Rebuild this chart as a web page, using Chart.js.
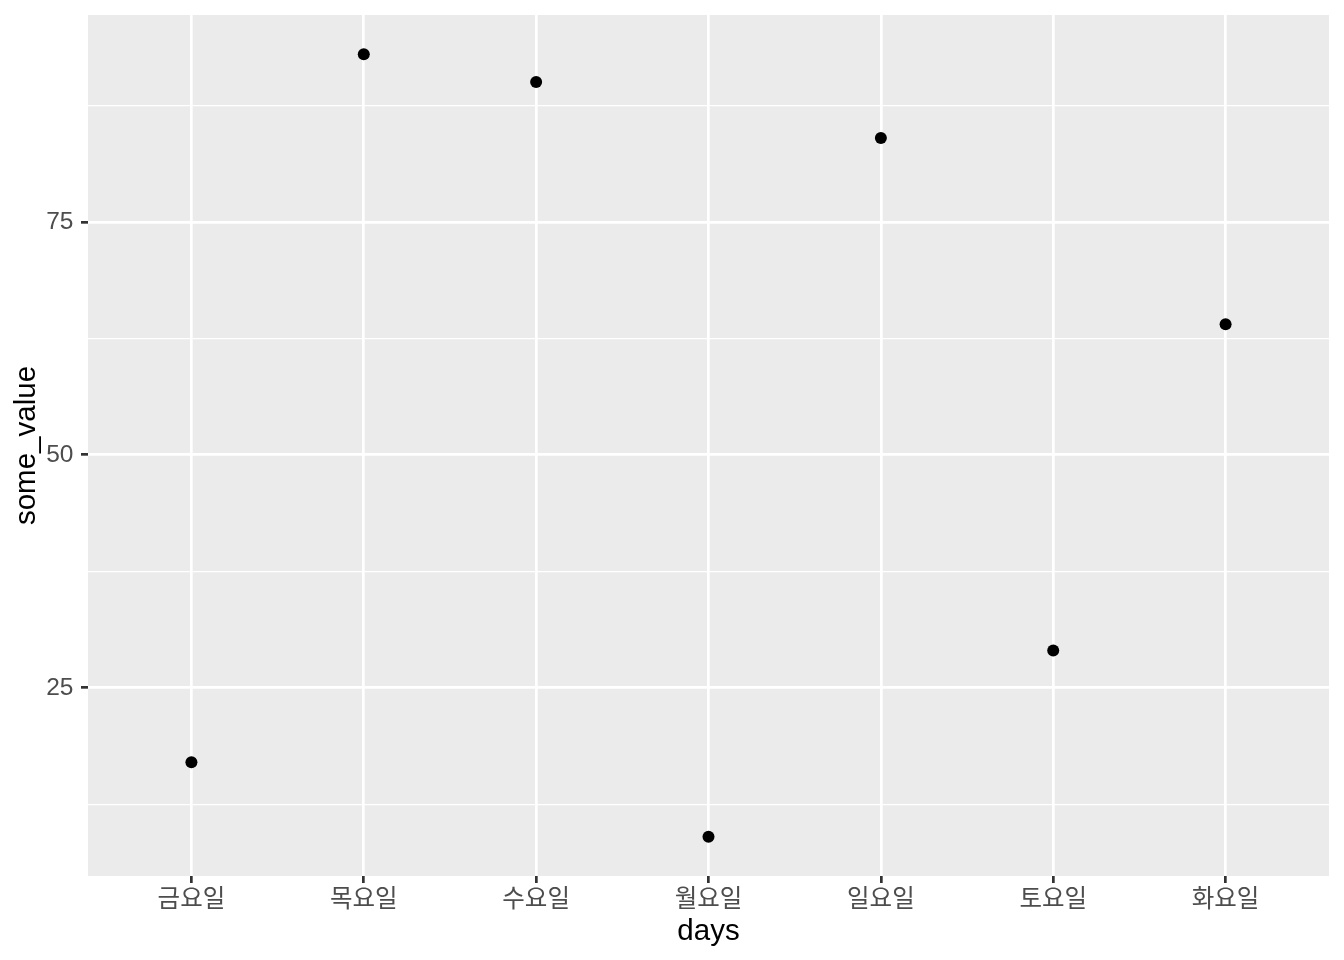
<!DOCTYPE html>
<html lang="ko">
<head>
<meta charset="utf-8">
<title>some_value by days</title>
<script src="https://cdn.jsdelivr.net/npm/chart.js@4/dist/chart.umd.min.js"></script>
<style>
  body { margin: 0; background: #fff; }
  #wrap { width: 1344px; height: 960px; }
</style>
</head>
<body>
<div id="wrap">
  <canvas id="myChart" width="1344" height="960"></canvas>
</div>
<script>
// data
var days = ["금요일", "목요일", "수요일", "월요일", "일요일", "토요일", "화요일"];
var someValue = [17, 93, 90, 9, 84, 29, 64];
var yMajor = [25, 50, 75];
var yMinor = [12.5, 37.5, 62.5, 87.5];

var FONT = "'Liberation Sans', Arial, 'Noto Sans CJK KR', sans-serif";

var points = days.map(function (d, i) { return { x: i, y: someValue[i] }; });

// grey panel behind the grid
var panelBg = {
  id: 'panelBg',
  beforeDraw: function (chart) {
    var a = chart.chartArea, c = chart.ctx;
    c.save();
    c.fillStyle = '#EBEBEB';
    c.fillRect(a.left, a.top, a.right - a.left, a.bottom - a.top);
    c.restore();
  }
};

function isMinor(ctx) {
  return ctx.tick && yMinor.indexOf(ctx.tick.value) !== -1;
}

function noEdgePad(scale) {
  scale.paddingTop = 0;
  scale.paddingBottom = 0;
  scale.paddingLeft = 0;
  scale.paddingRight = 0;
}

var ctx = document.getElementById('myChart').getContext('2d');
var myChart = new Chart(ctx, {
  type: 'scatter',
  data: {
    datasets: [{
      label: 'some_value',
      data: points,
      backgroundColor: '#000000',
      borderWidth: 0,
      pointRadius: 6,
      pointHoverRadius: 6
    }]
  },
  options: {
    responsive: false,
    animation: false,
    layout: { padding: { top: 15, right: 15, left: 0, bottom: 0 } },
    plugins: {
      legend: { display: false },
      tooltip: { enabled: false }
    },
    scales: {
      x: {
        type: 'linear',
        min: -0.6,
        max: 6.6,
        afterBuildTicks: function (scale) {
          scale.ticks = days.map(function (d, i) { return { value: i }; });
        },
        afterFit: function (scale) { scale.height = 84; noEdgePad(scale); },
        border: { display: false },
        grid: {
          color: '#FFFFFF',
          lineWidth: 2.7,
          tickColor: '#333333',
          tickLength: 7,
          tickWidth: 2.7
        },
        ticks: {
          padding: 3,
          color: '#4D4D4D',
          font: { family: FONT, size: 24.5 },
          maxRotation: 0,
          autoSkip: false,
          callback: function (v) { return days[v]; }
        },
        title: {
          display: true,
          text: 'days',
          color: '#000000',
          font: { family: FONT, size: 29.5 },
          padding: { top: 0, bottom: 10.5 }
        }
      },
      y: {
        type: 'linear',
        min: 4.8,
        max: 97.2,
        afterBuildTicks: function (scale) {
          scale.ticks = yMinor.concat(yMajor).sort(function (a, b) { return a - b; })
            .map(function (v) { return { value: v }; });
        },
        afterFit: function (scale) { scale.width = 88; noEdgePad(scale); },
        border: { display: false },
        grid: {
          color: '#FFFFFF',
          lineWidth: function (c) { return isMinor(c) ? 1.35 : 2.7; },
          tickColor: function (c) { return isMinor(c) ? 'rgba(0,0,0,0)' : '#333333'; },
          tickLength: 7,
          tickWidth: 2.7
        },
        ticks: {
          padding: 7.5,
          color: '#4D4D4D',
          font: { family: FONT, size: 24.5 },
          autoSkip: false,
          callback: function (v) { return yMajor.indexOf(v) !== -1 ? String(v) : ''; }
        },
        title: {
          display: true,
          text: 'some_value',
          color: '#000000',
          font: { family: FONT, size: 29.5 },
          padding: { top: 9.3, bottom: 0 }
        }
      }
    }
  },
  plugins: [panelBg]
});
</script>
</body>
</html>
